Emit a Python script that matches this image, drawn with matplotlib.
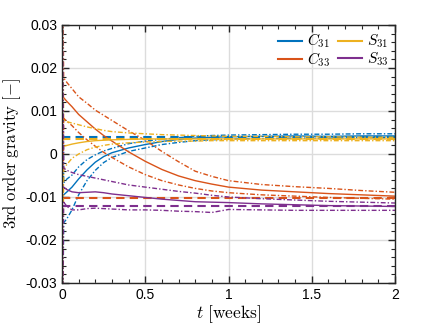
import matplotlib
matplotlib.use("Agg")
import matplotlib.pyplot as plt
from matplotlib.ticker import MultipleLocator, FixedLocator
from matplotlib.lines import Line2D

plt.rcParams['mathtext.fontset'] = 'cm'
plt.rcParams['font.family'] = ['Liberation Sans', 'DejaVu Sans']

# time (weeks)
t = [0, 0.01, 0.03, 0.06, 0.1, 0.15, 0.2, 0.25, 0.3, 0.4, 0.5, 0.6, 0.7, 0.8, 0.9, 1.0, 1.2, 1.4, 1.6, 1.8, 2.0]

# C31
c31_true = 0.0040
c31_est = [-0.0100, -0.0095, -0.0088, -0.0077, -0.0058, -0.0037, -0.0019, -0.0006, 0.0003, 0.0014, 0.0022, 0.0029, 0.0034, 0.0037, 0.0039, 0.0040, 0.0041, 0.0042, 0.0041, 0.0042, 0.0042]
c31_up = [0.06, -0.0067, -0.0058, -0.0049, -0.0030, -0.0013, -0.0002, 0.0007, 0.0013, 0.0024, 0.0030, 0.0034, 0.0038, 0.0041, 0.0043, 0.0044, 0.0045, 0.0046, 0.0046, 0.0047, 0.0047]
c31_lo = [-0.06, -0.0160, -0.0150, -0.0130, -0.0095, -0.0062, -0.0038, -0.0020, -0.0008, 0.0006, 0.0014, 0.0022, 0.0027, 0.0031, 0.0033, 0.0035, 0.0036, 0.0037, 0.0037, 0.0038, 0.0038]

# C33
c33_true = -0.0102
c33_est = [0.0135, 0.0131, 0.0122, 0.0110, 0.0092, 0.0075, 0.0058, 0.0043, 0.0030, 0.0005, -0.0017, -0.0036, -0.0051, -0.0062, -0.0070, -0.0077, -0.0084, -0.0088, -0.0092, -0.0095, -0.0098]
c33_up = [0.06, 0.0177, 0.0166, 0.0152, 0.0133, 0.0118, 0.0102, 0.0090, 0.0078, 0.0054, 0.0032, 0.0006, -0.0018, -0.0040, -0.0052, -0.0062, -0.0071, -0.0076, -0.0080, -0.0085, -0.0089]
c33_lo = [-0.06, 0.0083, 0.0076, 0.0066, 0.0050, 0.0033, 0.0018, 0.0004, -0.0008, -0.0030, -0.0048, -0.0062, -0.0072, -0.0080, -0.0086, -0.0090, -0.0095, -0.0098, -0.0101, -0.0103, -0.0105]

# S31
s31_true = 0.0034
s31_est = [0.0016, 0.0018, 0.0020, 0.0023, 0.0026, 0.0029, 0.0031, 0.0032, 0.0033, 0.0034, 0.0035, 0.0035, 0.0035, 0.0035, 0.0035, 0.0035, 0.0035, 0.0035, 0.0035, 0.0035, 0.0035]
s31_up = [0.06, 0.0078, 0.0075, 0.0072, 0.0068, 0.0063, 0.0059, 0.0055, 0.0052, 0.0049, 0.0047, 0.0045, 0.0044, 0.0043, 0.0042, 0.0041, 0.0041, 0.0040, 0.0040, 0.0039, 0.0039]
s31_lo = [-0.06, -0.0035, -0.0024, -0.0010, 0.0000, 0.0010, 0.0016, 0.0020, 0.0023, 0.0026, 0.0028, 0.0029, 0.0030, 0.0030, 0.0031, 0.0031, 0.0031, 0.0031, 0.0031, 0.0031, 0.0031]

# S33
s33_true = -0.0121
s33_est = [-0.0075, -0.0077, -0.0083, -0.0088, -0.0090, -0.0089, -0.0088, -0.0090, -0.0093, -0.0097, -0.0101, -0.0105, -0.0108, -0.0111, -0.0112, -0.0113, -0.0116, -0.0118, -0.0120, -0.0121, -0.0122]
s33_up = [0.06, -0.0033, -0.0038, -0.0043, -0.0048, -0.0052, -0.0056, -0.0060, -0.0064, -0.0072, -0.0077, -0.0082, -0.0087, -0.0091, -0.0096, -0.0100, -0.0104, -0.0107, -0.0110, -0.0112, -0.0114]
s33_lo = [-0.06, -0.0112, -0.0122, -0.0130, -0.0130, -0.0127, -0.0126, -0.0127, -0.0128, -0.0130, -0.0130, -0.0131, -0.0133, -0.0134, -0.0136, -0.0129, -0.0130, -0.0131, -0.0131, -0.0131, -0.0131]

labels = [r'$C_{31}$', r'$C_{33}$', r'$S_{31}$', r'$S_{33}$']
colors = ['#0072BD', '#D95319', '#EDB120', '#7E2F8E']
series = [
    (c31_true, c31_est, c31_up, c31_lo),
    (c33_true, c33_est, c33_up, c33_lo),
    (s31_true, s31_est, s31_up, s31_lo),
    (s33_true, s33_est, s33_up, s33_lo),
]
xticks = [0, 0.5, 1, 1.5, 2]
xticklabels = ['0', '0.5', '1', '1.5', '2']
yticks = [-0.03, -0.02, -0.01, 0, 0.01, 0.02, 0.03]
yticklabels = ['-0.03', '-0.02', '-0.01', '0', '0.01', '0.02', '0.03']

fig = plt.figure(figsize=(4.36, 3.27), dpi=100)
ax = fig.add_axes([62/436, 1-283/327, (395-62)/436, (283-25)/327])

dashdot = (0, (3.5, 1.5, 1, 1.5))
for (tv, est, up, lo), c in zip(series, colors):
    ax.plot([t[0], t[-1]], [tv, tv], color=c, lw=1.5, ls=(0, (4, 2.5)))
    ax.plot(t, up, color=c, lw=1.0, ls=dashdot)
    ax.plot(t, lo, color=c, lw=1.0, ls=dashdot)
    ax.plot(t, est, color=c, lw=1.0, ls='-')

ax.set_xlim(0, 2)
ax.set_ylim(-0.03, 0.03)
ax.xaxis.set_major_locator(FixedLocator(xticks))
ax.set_xticklabels(xticklabels)
ax.yaxis.set_major_locator(FixedLocator(yticks))
ax.set_yticklabels(yticklabels)
ax.xaxis.set_minor_locator(MultipleLocator(0.1))
ax.yaxis.set_minor_locator(MultipleLocator(0.002))
ax.tick_params(which='both', direction='in', top=True, right=True, colors='#262626', labelsize=10, labelcolor='black')
ax.tick_params(which='major', length=5, width=1)
ax.tick_params(which='minor', length=3, width=0.8)
ax.grid(True, which='major', color='#dcdcdc', lw=1)
ax.set_axisbelow(True)
for s in ax.spines.values():
    s.set_color('#262626')
    s.set_linewidth(1)

ax.set_ylabel(r'$\mathrm{3rd\ order\ gravity}\ [-]$', fontsize=12)
ax.yaxis.set_label_coords(-0.118, 0.5)
ax.set_xlabel(r'$t\ \mathrm{[weeks]}$', fontsize=12.5, labelpad=1)

handles = [Line2D([0], [0], color=c, lw=1.5) for c in colors]
ax.legend(handles, labels, ncol=2, loc='upper right', frameon=False, fontsize=11,
          handlelength=1.6, columnspacing=0.5, labelspacing=0.0, borderaxespad=0.25,
          handletextpad=0.3, borderpad=0.2)

fig.savefig('out.png', dpi=100)
